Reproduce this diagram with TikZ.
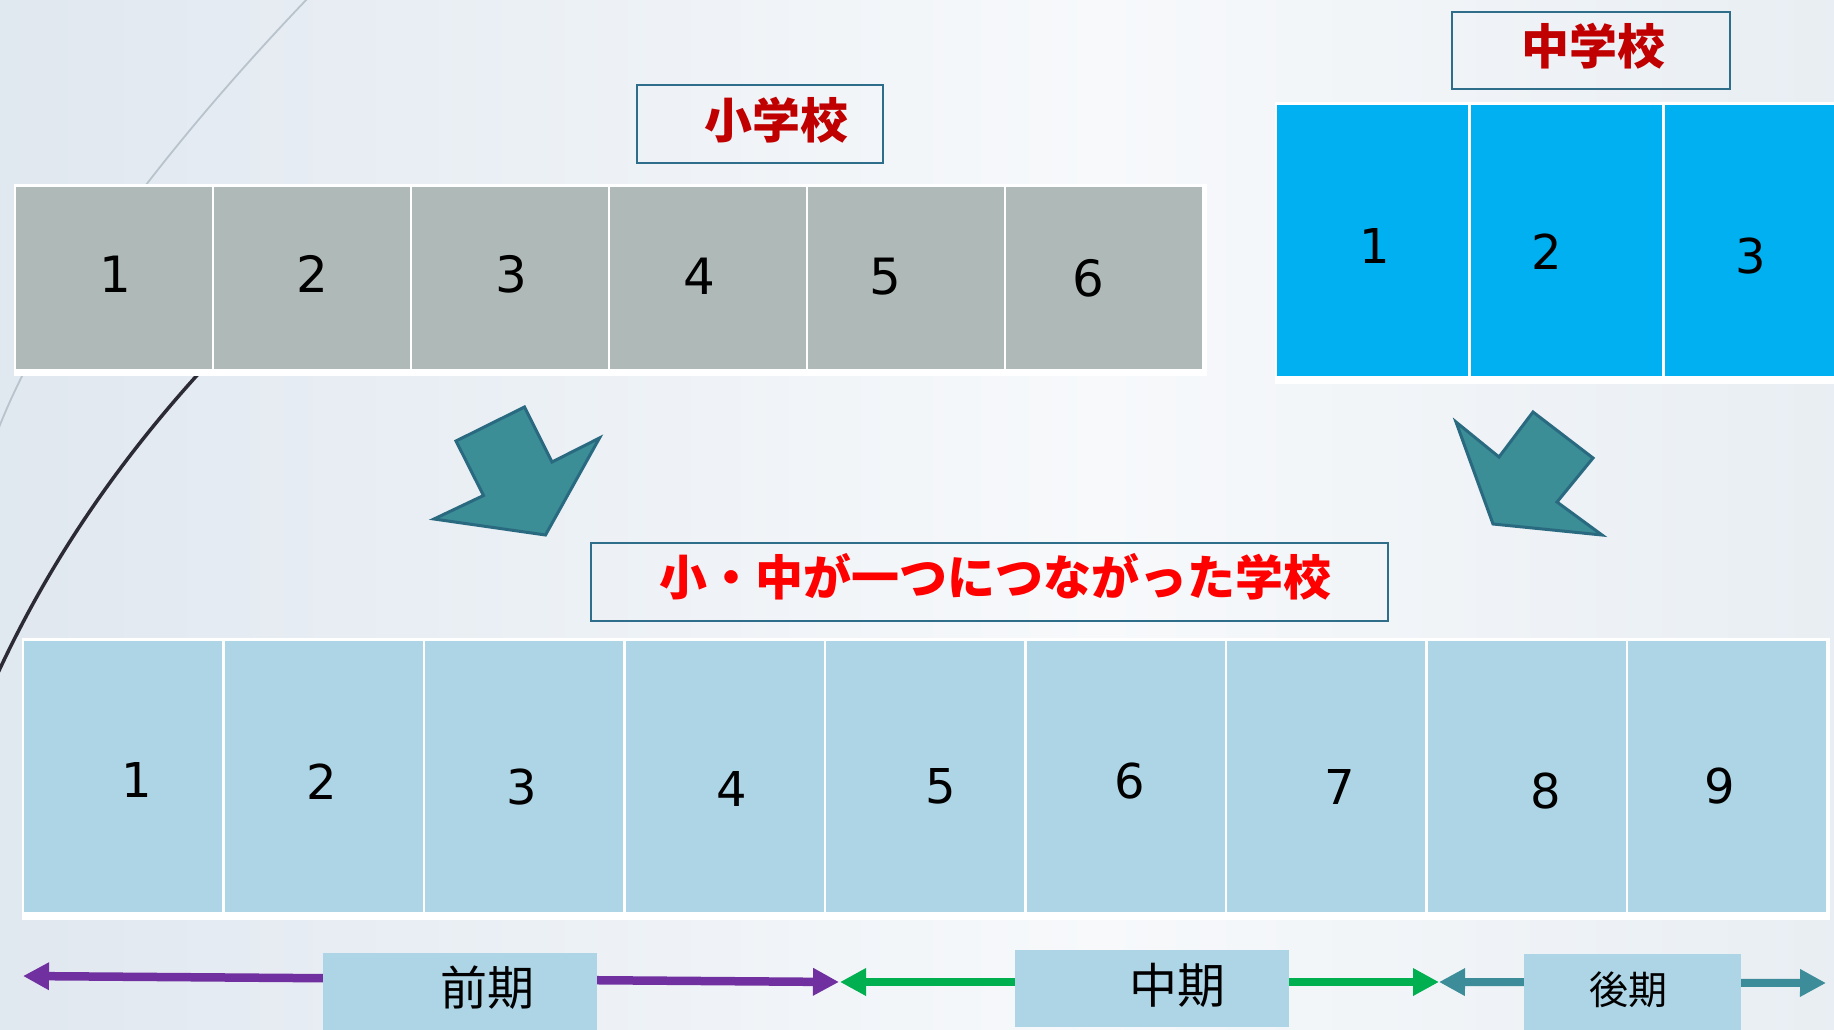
\documentclass[tikz,border=0pt]{standalone}
\usepackage{fontspec}
\setmainfont{DejaVu Sans}
\newfontfamily\cjk{Noto Sans CJK JP}
\usetikzlibrary{arrows.meta}
\definecolor{bgL}{HTML}{CDD9E6}
\definecolor{bgM}{HTML}{F7F9FB}
\definecolor{bgR}{HTML}{D6E0E9}
\definecolor{greyC}{HTML}{AFBAB8}
\definecolor{blueC}{HTML}{00B0F0}
\definecolor{lightC}{HTML}{ADD5E6}
\definecolor{darkRed}{HTML}{C00000}
\definecolor{brightRed}{HTML}{FF0000}
\definecolor{boxLine}{HTML}{2F6E8B}
\definecolor{tealF}{HTML}{3B8D96}
\definecolor{tealL}{HTML}{2A6A80}
\definecolor{purpleA}{HTML}{7030A0}
\definecolor{greenA}{HTML}{00B050}
\definecolor{tealA}{HTML}{3C8D99}
\definecolor{curveL}{HTML}{B9C3CC}
\definecolor{curveD}{HTML}{2B2A35}
\pgfdeclarehorizontalshading{bgsh}{100bp}{color(0bp)=(bgL); color(55bp)=(bgM); color(100bp)=(bgR)}
\tikzset{
  greycell/.style={fill=greyC, draw=none, inner sep=0pt, outer sep=0pt, minimum width=196pt, minimum height=182pt},
  bluecell/.style={fill=blueC, draw=none, inner sep=0pt, outer sep=0pt, minimum width=191pt, minimum height=271pt},
  lightcell/.style={fill=lightC, draw=none, inner sep=0pt, outer sep=0pt, minimum width=198pt, minimum height=271pt},
  digitA/.style={inner sep=0pt, font=\fontsize{50pt}{52pt}\selectfont},
  digitB/.style={inner sep=0pt, font=\fontsize{48pt}{50pt}\selectfont},
  titlebox/.style={draw=boxLine, line width=2.5pt, inner sep=0pt},
  titletext/.style={inner sep=0pt, text=darkRed, font=\cjk\bfseries\fontsize{48pt}{50pt}\selectfont},
  periodbox/.style={fill=lightC, draw=none, inner sep=0pt},
  periodtext/.style={inner sep=0pt, text=black, font=\cjk\fontsize{47pt}{49pt}\selectfont},
  bigarrow/.style={fill=tealF, draw=tealL, line width=3pt, line join=miter},
  spanarrow/.style={line width=8.5pt, {Triangle[length=26pt,width=26pt]}-{Triangle[length=26pt,width=26pt]}}
}
\begin{document}
\begin{tikzpicture}[x=1pt,y=-1pt]
\useasboundingbox (0,0) rectangle (1834,1029);
\clip (0,0) rectangle (1834,1029);
\shade[shading=bgsh] (0,0) rectangle (1834,1029);
% decorative curves
\draw[line width=1.8pt, curveL] (308,-2) .. controls (220,90) and (60,270) .. (-2,430);
\draw[line width=3.5pt, curveD] (200,372) .. controls (120,460) and (50,560) .. (-3,675);
% elementary school row
\fill[white] (14,184) rectangle (1207,376);
\foreach \i in {0,...,5} {
  \node[greycell] (g\i) at ({114+198*\i},278) {};
}
\node[digitA] (gn1) at (115,274) {1};
\node[digitA] (gn2) at (312,274) {2};
\node[digitA] (gn3) at (511,274) {3};
\node[digitA] (gn4) at (699,276) {4};
\node[digitA] (gn5) at (885,277) {5};
\node[digitA] (gn6) at (1088,278) {6};
% junior high row
\fill[white] (1275,102) rectangle (1840,384);
\node[bluecell] (b0) at (1372.5,240.5) {};
\node[bluecell] (b1) at (1566.5,240.5) {};
\node[bluecell] (b2) at (1760.5,240.5) {};
\node[digitB] (bn1) at (1375,246) {1};
\node[digitB] (bn2) at (1547,252) {2};
\node[digitB] (bn3) at (1751,256) {3};
% combined row
\fill[white] (22,638) rectangle (1830,920);
\foreach \i in {0,...,8} {
  \node[lightcell] (c\i) at ({123+200.5*\i},776.5) {};
}
\node[digitB] (cn1) at (137,780) {1};
\node[digitB] (cn2) at (322,782) {2};
\node[digitB] (cn3) at (522,787) {3};
\node[digitB] (cn4) at (732,789) {4};
\node[digitB] (cn5) at (941,786) {5};
\node[digitB] (cn6) at (1130,781) {6};
\node[digitB] (cn7) at (1340,787) {7};
\node[digitB] (cn8) at (1546,791) {8};
\node[digitB] (cn9) at (1720,786) {9};
% title boxes
\node[titlebox, minimum width=246pt, minimum height=78pt] (eBox) at (760,124) {};
\node[titletext] (eText) at (776,120) {小学校};
\node[titlebox, minimum width=278pt, minimum height=77pt] (jBox) at (1591,50.5) {};
\node[titletext] (jText) at (1593,46) {中学校};
\node[titlebox, minimum width=797pt, minimum height=78pt] (mBox) at (989.5,582) {};
\node[titletext, text=brightRed, font=\cjk\bfseries\fontsize{48pt}{50pt}\selectfont] (mText) at (995,577) {小・中が一つにつながった学校};
% big arrows
\draw[bigarrow] (456,441) -- (524.5,407) -- (552,462) -- (599.5,438) -- (545.5,535) -- (434,519) -- (483.5,495.5) -- cycle;
\draw[bigarrow] (1456,422) -- (1499,457) -- (1533,412) -- (1593,458) -- (1557,502) -- (1602,535) -- (1493,524) -- cycle;
% period arrows
\coordinate (pL) at (23,976);
\coordinate (pR) at (839,982);
\coordinate (gL) at (840,982);
\coordinate (gR) at (1439,982);
\coordinate (tL) at (1439,982);
\coordinate (tR) at (1826,983);
\draw[spanarrow, purpleA] (pL) -- (pR);
\draw[spanarrow, greenA] (gL) -- (gR);
\draw[spanarrow, tealA, line width=8pt] (tL) -- (tR);
% period labels
\node[periodbox, minimum width=274pt, minimum height=82pt] (pBox) at (460,994) {};
\node[periodtext] (pText) at (487,988) {前期};
\node[periodbox, minimum width=274pt, minimum height=77pt] (mpBox) at (1152,988.5) {};
\node[periodtext, font=\cjk\fontsize{48pt}{50pt}\selectfont] (mpText) at (1177,985) {中期};
\node[periodbox, minimum width=217pt, minimum height=81pt] (lBox) at (1632.5,994.5) {};
\node[periodtext, font=\cjk\fontsize{39pt}{41pt}\selectfont] (lText) at (1628,990) {後期};
\end{tikzpicture}
\end{document}
